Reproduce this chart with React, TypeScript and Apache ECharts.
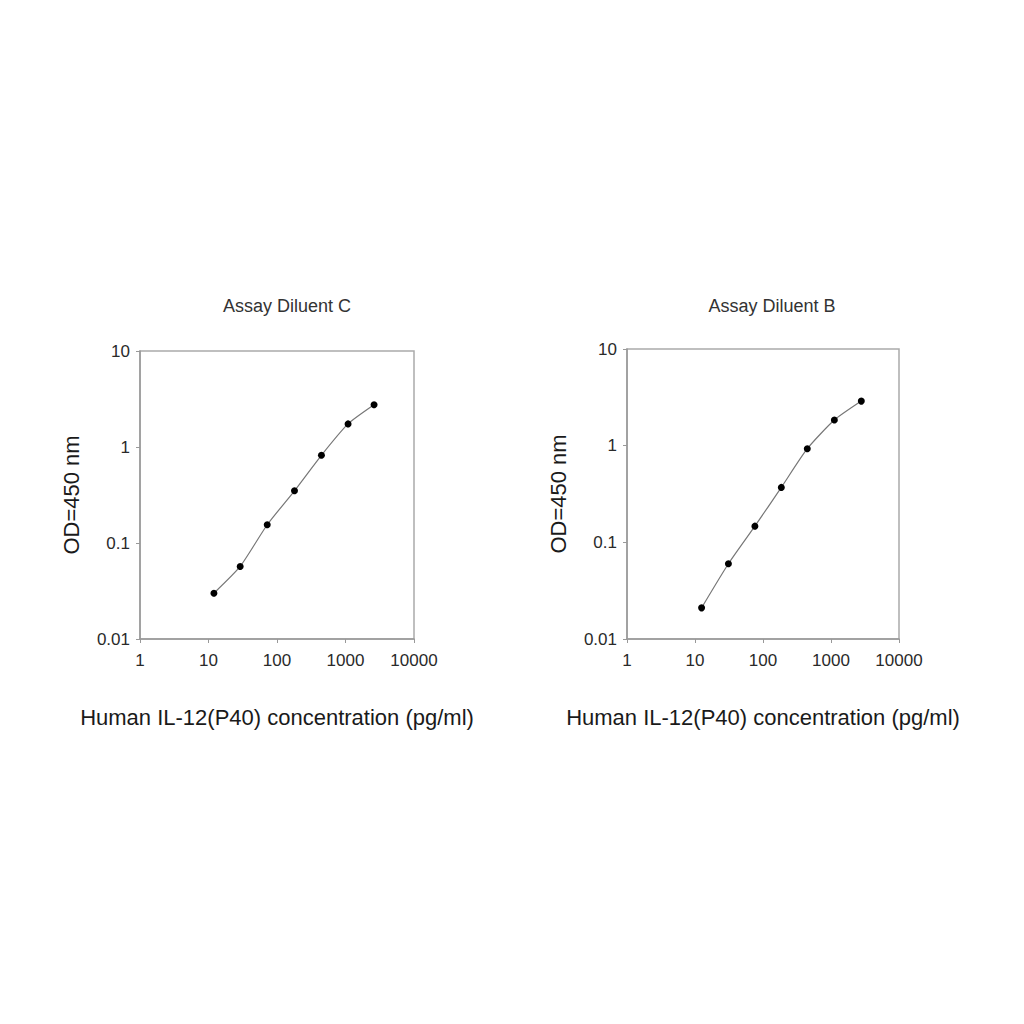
import * as echarts from "echarts";
import { useEffect, useRef } from "react";

// concentrations (pg/ml) and OD readings
const concC = [12, 29, 72, 180, 445, 1090, 2610];
const odC = [0.03, 0.057, 0.155, 0.35, 0.82, 1.74, 2.75];
const concB = [12.5, 31, 76, 186, 448, 1120, 2790];
const odB = [0.021, 0.06, 0.147, 0.37, 0.93, 1.84, 2.89];

const xTickLabels = ["1", "10", "100", "1000", "10000"];
const yTickLabels = ["0.01", "0.1", "1", "10"];
const titles = ["Assay Diluent C", "Assay Diluent B"];

const FONT = "'Liberation Sans', Arial, sans-serif";

function fmt(labels: string[]) {
  return (v: number) => {
    const hit = labels.find((l) => Math.abs(Number(l) - v) / Number(l) < 1e-6);
    return hit ?? "";
  };
}

function App() {
  const chartRef = useRef(null);

  useEffect(() => {
    const chart = echarts.init(chartRef.current, null, { renderer: "svg" });

    const grids = [
      { left: 140, top: 351, width: 274, height: 288 },
      { left: 627, top: 349, width: 272, height: 290 },
    ];

    const xAxis = grids.map((_, i) => ({
      type: "log",
      logBase: 10,
      gridIndex: i,
      min: 1,
      max: 10000,
      name: "Human IL-12(P40) concentration (pg/ml)",
      nameLocation: "middle",
      nameGap: 67,
      nameTextStyle: { fontFamily: FONT, fontSize: 22, color: "#1a1a1a" },
      axisLine: { lineStyle: { color: "#999", width: 1.5 } },
      axisTick: { show: true, length: 4, lineStyle: { color: "#999" } },
      minorTick: { show: false },
      splitLine: { show: false },
      axisLabel: {
        fontFamily: FONT,
        fontSize: 17,
        color: "#2a2a2a",
        margin: 13,
        formatter: fmt(xTickLabels),
      },
    }));

    const yAxis = grids.map((_, i) => ({
      type: "log",
      logBase: 10,
      gridIndex: i,
      min: 0.01,
      max: 10,
      name: "OD=450 nm",
      nameLocation: "middle",
      nameGap: 58,
      nameTextStyle: { fontFamily: FONT, fontSize: 22, color: "#1a1a1a" },
      axisLine: { lineStyle: { color: "#999", width: 1.5 } },
      axisTick: { show: true, length: 4, lineStyle: { color: "#999" } },
      splitLine: { show: false },
      axisLabel: {
        fontFamily: FONT,
        fontSize: 17,
        color: "#2a2a2a",
        margin: 10,
        formatter: fmt(yTickLabels),
      },
    }));

    const data = [
      concC.map((c, k) => [c, odC[k]]),
      concB.map((c, k) => [c, odB[k]]),
    ];

    const options = {
      animation: false,
      backgroundColor: "#fff",
      title: [
        { text: titles[0], left: 282, top: 292, textAlign: "center" },
        { text: titles[1], left: 767, top: 292, textAlign: "center" },
      ].map((t) => ({
        ...t,
        textStyle: { fontFamily: FONT, fontSize: 18, fontWeight: "normal", color: "#333" },
      })),
      grid: grids.map((g) => ({
        ...g,
        show: true,
        borderColor: "#aaa",
        borderWidth: 1.5,
        backgroundColor: "transparent",
      })),
      xAxis,
      yAxis,
      series: data.map((d, i) => ({
        type: "line",
        xAxisIndex: i,
        yAxisIndex: i,
        data: d,
        smooth: 0.2,
        symbol: "circle",
        symbolSize: 7,
        itemStyle: { color: "#000" },
        lineStyle: { color: "#777", width: 1.2 },
      })),
    };

    chart.setOption(options);

    return () => {
      chart.dispose();
    };
  }, []);

  return (
    <div
      ref={chartRef}
      style={{ position: "fixed", left: 0, top: 0, width: "1024px", height: "1024px" }}
    />
  );
}

export default App;
